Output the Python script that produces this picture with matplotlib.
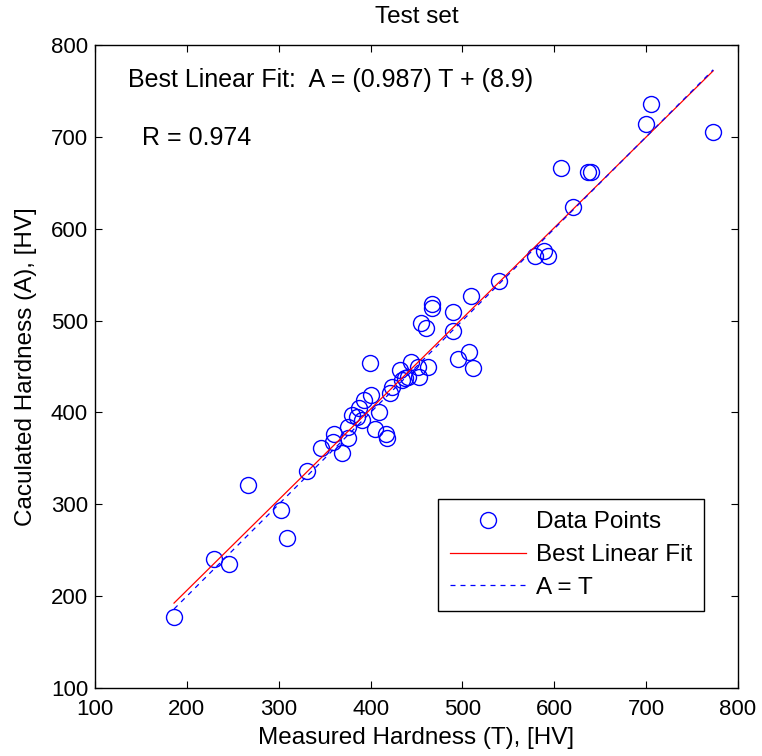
import numpy as np
import matplotlib
matplotlib.use("Agg")
from matplotlib import pyplot as plt

plt.rcParams['font.family'] = ['Liberation Sans', 'DejaVu Sans']

# measured (T) and calculated (A) hardness
measured = [186, 230, 246, 267, 302, 309, 331, 346, 360, 359, 369, 375, 375, 380,
            387, 385, 391, 393, 400, 409, 405, 417, 418, 399, 421, 423, 432, 434,
            437, 441, 444, 452, 453, 462, 455, 460, 467, 467, 490, 490, 509, 540,
            495, 507, 511, 579, 589, 593, 620, 607, 637, 640, 700, 705, 773]
calculated = [177, 241, 235, 321, 294, 263, 336, 361, 376, 368, 356, 372, 384, 397,
              405, 395, 392, 413, 419, 400, 382, 376, 372, 454, 421, 428, 446, 435,
              437, 439, 455, 450, 439, 449, 497, 492, 518, 514, 509, 489, 527, 543,
              458, 466, 448, 570, 576, 570, 624, 666, 662, 662, 714, 736, 705]

fit_slope = 0.987
fit_icept = 8.9
r_value = 0.974

fig = plt.figure(figsize=(7.62, 7.56), dpi=100)
ax = fig.add_axes([0.1247, 0.0899, 0.8438, 0.8506])

T = np.array(measured)
t_line = np.array([T.min(), T.max()])

ax.plot(T, calculated, 'o', mfc='none', mec='blue', ms=11.5, mew=1.0, label='Data Points')
ax.plot(t_line, fit_slope * t_line + fit_icept, '-', color='red', lw=0.9, label='Best Linear Fit')
ax.plot(t_line, t_line, '--', color='blue', lw=0.9, dashes=(4, 4), label='A = T')

ax.set_xlim(100, 800)
ax.set_ylim(100, 800)
ax.set_xticks(np.arange(100, 801, 100))
ax.set_yticks(np.arange(100, 801, 100))
ax.tick_params(direction='in', top=True, right=True, labelsize=16, length=5)
ax.tick_params(axis='x', pad=8)
ax.tick_params(axis='y', pad=5)
for s in ax.spines.values():
    s.set_linewidth(1.0)

ax.set_title('Test set', fontsize=17.5, pad=16)
ax.set_xlabel('Measured Hardness (T), [HV]', fontsize=17.5, labelpad=5)
ax.set_ylabel('Caculated Hardness (A), [HV]', fontsize=17.5, labelpad=10)

ax.text(136, 762, 'Best Linear Fit:  A = (%.3f) T + (%.1f)' % (fit_slope, fit_icept),
        fontsize=18, va='center', ha='left')
ax.text(151, 699, 'R = %.3f' % r_value, fontsize=18, va='center', ha='left')

leg = ax.legend(loc='lower right', bbox_to_anchor=(0.947, 0.12), borderaxespad=0,
                fontsize=17.5, fancybox=False, edgecolor='black', framealpha=1,
                handlelength=3.1, labelspacing=0.44, borderpad=0.5, handletextpad=0.4)
leg.get_frame().set_linewidth(1.0)

fig.savefig('out.png', dpi=100)
